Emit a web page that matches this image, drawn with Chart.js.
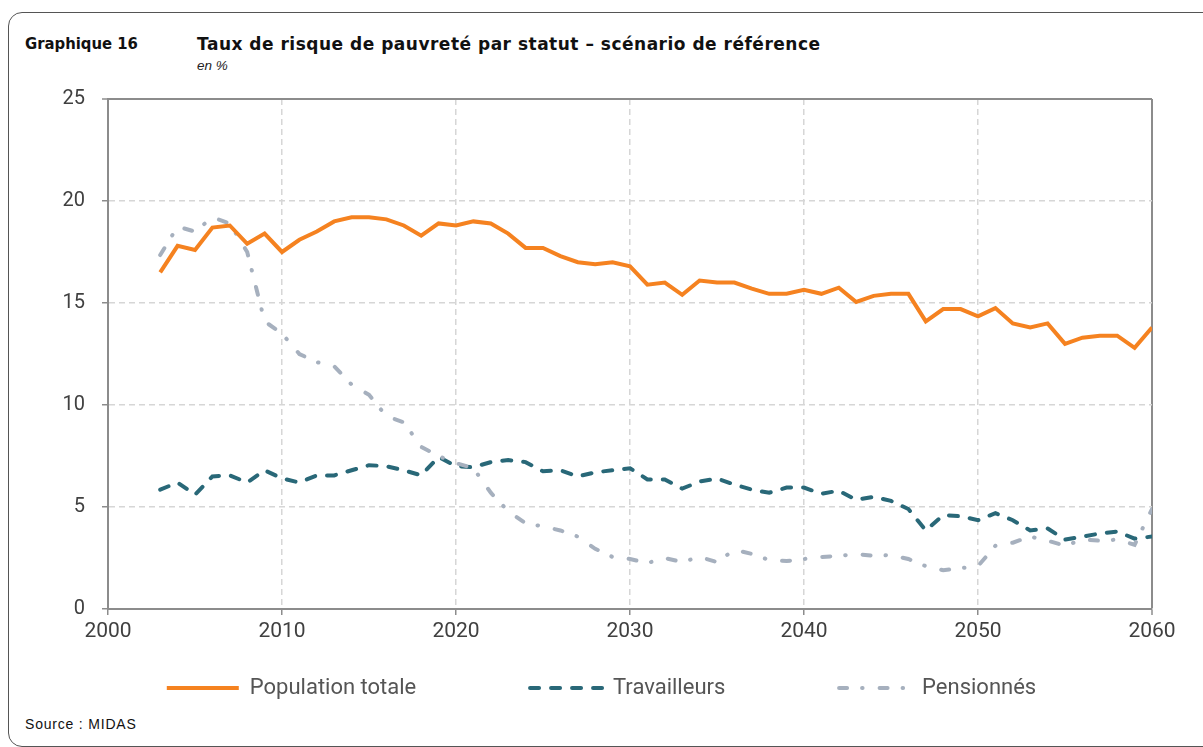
<!DOCTYPE html>
<html>
<head>
  <meta charset="utf-8" />
  <title>Graphique 16</title>
  <script src="https://cdn.jsdelivr.net/npm/chart.js@4.4.1/dist/chart.umd.min.js"></script>
  <style>
    body {
      margin: 0;
      width: 1203px;
      height: 747px;
      overflow: hidden;
      background: #fff;
    }
    #frame {
      position: absolute;
      left: 8px;
      top: 12px;
      width: 1230px;
      height: 733px;
      border: 1px solid #555;
      border-radius: 14px;
    }
    .title {
      position: absolute;
      top: 34px;
      font-family: "DejaVu Sans", sans-serif;
      font-size: 17px;
      font-weight: bold;
      color: #111;
      white-space: nowrap;
    }
    #unit {
      position: absolute;
      left: 197px;
      top: 58px;
      font-family: "Liberation Sans", Arial, sans-serif;
      font-style: italic;
      font-size: 13.5px;
      color: #222;
    }
    #source {
      position: absolute;
      left: 25px;
      top: 716px;
      font-family: "Liberation Sans", Arial, sans-serif;
      font-size: 14px;
      letter-spacing: 0.8px;
      color: #111;
    }
    #chartBox {
      position: absolute;
      left: 0;
      top: 70px;
      width: 1203px;
      height: 639px;
    }
  </style>
</head>
<body>
  <div id="frame"></div>
  <div class="title" style="left:25px; font-family:'DejaVu Sans Condensed','DejaVu Sans',sans-serif; font-size:16.5px">Graphique 16</div>
  <div class="title" style="left:197px; letter-spacing:0.5px">Taux de risque de pauvreté par statut – scénario de référence</div>
  <div id="unit">en %</div>
  <div id="chartBox"><canvas id="povertyChart"></canvas></div>
  <div id="source">Source : MIDAS</div>

  <script>
    // years 2003 -> 2060 (in %)
    const years = [];
    for (let y = 2003; y <= 2060; y++) years.push(y);

    const populationTotale = [
      16.5, 17.8, 17.6, 18.7, 18.8, 17.9, 18.4, 17.5, 18.1, 18.5,
      19.0, 19.2, 19.2, 19.1, 18.8, 18.3, 18.9, 18.8, 19.0, 18.9,
      18.4, 17.7, 17.7, 17.3, 17.0, 16.9, 17.0, 16.8, 15.9, 16.0,
      15.4, 16.1, 16.0, 16.0, 15.7, 15.45, 15.45, 15.65, 15.45, 15.75,
      15.05, 15.35, 15.45, 15.45, 14.1, 14.7, 14.7, 14.35, 14.75, 14.0,
      13.8, 14.0, 13.0, 13.3, 13.4, 13.4, 12.8, 13.8
    ];

    const travailleurs = [
      5.85, 6.2, 5.6, 6.5, 6.55, 6.2, 6.8, 6.4, 6.2, 6.55,
      6.55, 6.8, 7.05, 7.0, 6.8, 6.55, 7.45, 7.0, 6.95, 7.2,
      7.3, 7.2, 6.75, 6.8, 6.5, 6.7, 6.8, 6.9, 6.35, 6.35,
      5.9, 6.25, 6.4, 6.1, 5.85, 5.7, 5.95, 5.95, 5.65, 5.8,
      5.35, 5.5, 5.3, 4.9, 3.85, 4.6, 4.55, 4.35, 4.7, 4.35,
      3.85, 3.95, 3.4, 3.55, 3.7, 3.8, 3.45, 3.55
    ];

    const pensionnes = [
      17.35, 18.75, 18.5, 19.2, 18.9, 17.5, 14.1, 13.5, 12.5, 12.1,
      11.9, 11.0, 10.5, 9.45, 9.15, 7.95, 7.5, 7.15, 6.9, 5.7,
      4.8, 4.2, 4.05, 3.85, 3.55, 2.95, 2.55, 2.45, 2.25, 2.5,
      2.3, 2.55, 2.3, 2.9, 2.7, 2.4, 2.35, 2.45, 2.55, 2.6,
      2.7, 2.6, 2.65, 2.45, 2.1, 1.9, 2.0, 2.1, 3.1, 3.25,
      3.55, 3.35, 3.1, 3.4, 3.35, 3.4, 3.15, 4.9
    ];

    const seriesNames = ['Population totale', 'Travailleurs', 'Pensionnés'];
    const xTicks = [2000, 2010, 2020, 2030, 2040, 2050, 2060];
    const yTicks = [0, 5, 10, 15, 20, 25];

    const FONT = 'Roboto, "Liberation Sans", sans-serif';
    const toPoints = arr => arr.map((v, i) => ({ x: years[i], y: v }));

    // gridlines: dashed light grey, except the frame edges (top / right) in solid grey
    const isEdge = (ctx, edge) => ctx.tick && ctx.tick.value === edge;

    const ctx = document.getElementById('povertyChart').getContext('2d');
    new Chart(ctx, {
      type: 'line',
      data: {
        datasets: [
          {
            label: seriesNames[0],
            data: toPoints(populationTotale),
            borderColor: '#F58220',
            borderWidth: 4,
            pointRadius: 0,
            tension: 0,
            order: 0
          },
          {
            label: seriesNames[1],
            data: toPoints(travailleurs),
            borderColor: '#296878',
            borderWidth: 4,
            borderDash: [9, 12],
            borderCapStyle: 'round',
            pointRadius: 0,
            tension: 0,
            order: 2
          },
          {
            label: seriesNames[2],
            data: toPoints(pensionnes),
            borderColor: '#A6B0BE',
            borderWidth: 4,
            borderDash: [8, 15, 0.5, 17],
            borderCapStyle: 'round',
            pointRadius: 0,
            tension: 0,
            order: 1
          }
        ]
      },
      options: {
        responsive: true,
        maintainAspectRatio: false,
        animation: false,
        // symmetric side padding keeps the legend centred on the page
        layout: { padding: { left: 51, right: 51, top: 0, bottom: 0 } },
        scales: {
          x: {
            type: 'linear',
            min: 2000,
            max: 2060,
            afterBuildTicks: s => { s.ticks = xTicks.map(v => ({ value: v })); },
            afterFit: s => { s.height = 44; },
            ticks: {
              padding: 4,
              color: '#404040',
              font: { family: FONT, size: 21 },
              callback: v => String(v)
            },
            grid: {
              color: c => isEdge(c, 2060) ? '#8c8c8c' : '#d6d6d6',
              lineWidth: c => isEdge(c, 2060) ? 2 : 1.5,
              tickColor: '#8c8c8c',
              tickLength: 6,
              tickWidth: 1.5
            },
            border: {
              color: '#8c8c8c',
              width: 2,
              dash: c => isEdge(c, 2060) ? [] : [6, 4]
            }
          },
          y: {
            min: 0,
            max: 25,
            afterBuildTicks: s => { s.ticks = yTicks.map(v => ({ value: v })); },
            afterFit: s => { s.width = 57; },
            ticks: {
              padding: 17,
              color: '#404040',
              font: { family: FONT, size: 20 }
            },
            grid: {
              color: c => isEdge(c, 25) ? '#8c8c8c' : '#d6d6d6',
              lineWidth: c => isEdge(c, 25) ? 2 : 1.5,
              tickColor: '#8c8c8c',
              tickLength: 6,
              tickWidth: 1.5
            },
            border: {
              color: '#8c8c8c',
              width: 2,
              dash: c => isEdge(c, 25) ? [] : [6, 4]
            }
          }
        },
        plugins: {
          tooltip: { enabled: false },
          legend: {
            position: 'bottom',
            labels: {
              usePointStyle: true,
              pointStyle: 'line',
              pointStyleWidth: 72,
              padding: 24,
              color: '#555',
              font: { family: FONT, size: 22 },
              generateLabels: chart => {
                const items = Chart.defaults.plugins.legend.labels.generateLabels(chart);
                items.sort((a, b) => a.datasetIndex - b.datasetIndex);
                items.forEach((it, i) => {
                  const ds = chart.data.datasets[it.datasetIndex];
                  it.lineWidth = ds.borderWidth;
                  it.lineDash = ds.borderDash || [];
                  it.lineCap = ds.borderCapStyle || 'butt';
                  it.strokeStyle = ds.borderColor;
                  // widen the gap between entries like the original
                  if (i < items.length - 1) it.text = it.text + '\u2003\u2003\u2003\u2003';
                });
                return items;
              }
            }
          }
        }
      }
    });
  </script>
</body>
</html>
